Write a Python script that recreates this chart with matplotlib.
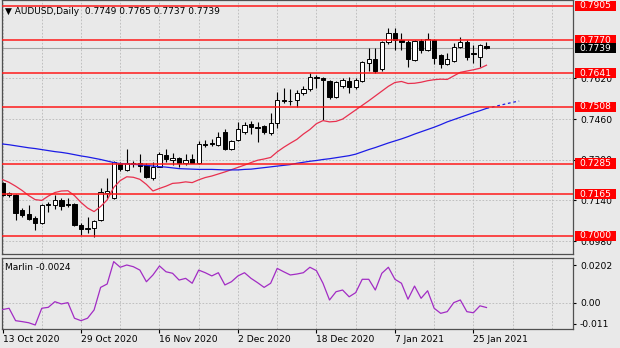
import matplotlib
matplotlib.use("Agg")
import matplotlib.pyplot as plt
from matplotlib.patches import Rectangle

plt.rcParams["font.family"] = ["DejaVu Sans"]

W, H, DPI = 620, 348, 100
BG = "#e9e9e9"
GRID = "#b8b8b8"
LEVEL_RED = "#ff1a1a"
SPINE = "#505050"

# ---- daily AUDUSD bars ----
dates = ["13 Oct 2020", "29 Oct 2020", "16 Nov 2020", "2 Dec 2020",
         "18 Dec 2020", "7 Jan 2021", "25 Jan 2021"]
date_bars = [0, 12, 24, 36, 48, 60, 72]

opens = [0.7208, 0.7161, 0.7161, 0.7102, 0.7085, 0.7070, 0.7050, 0.7120, 0.7122, 0.7142,
         0.7126, 0.7126, 0.7044, 0.7028, 0.7031, 0.7061, 0.7168, 0.7149, 0.7286, 0.7260,
         0.7286, 0.7286, 0.7279, 0.7230, 0.7273, 0.7319, 0.7300, 0.7306, 0.7286, 0.7302,
         0.7289, 0.7362, 0.7365, 0.7358, 0.7410, 0.7341, 0.7378, 0.7410, 0.7439, 0.7428,
         0.7433, 0.7406, 0.7443, 0.7535, 0.7532, 0.7535, 0.7562, 0.7577, 0.7627, 0.7622,
         0.7610, 0.7546, 0.7590, 0.7611, 0.7586, 0.7611, 0.7681, 0.7697, 0.7656, 0.7763,
         0.7798, 0.7770, 0.7765, 0.7693, 0.7769, 0.7732, 0.7771, 0.7712, 0.7677, 0.7690,
         0.7745, 0.7765, 0.7719, 0.7703, 0.7749]
highs = [0.7212, 0.7175, 0.7166, 0.7110, 0.7122, 0.7079, 0.7125, 0.7134, 0.7161, 0.7150,
         0.7149, 0.7128, 0.7050, 0.7076, 0.7063, 0.7189, 0.7228, 0.7295, 0.7292, 0.7343,
         0.7296, 0.7323, 0.7286, 0.7290, 0.7332, 0.7341, 0.7326, 0.7310, 0.7323, 0.7323,
         0.7375, 0.7378, 0.7381, 0.7410, 0.7420, 0.7378, 0.7450, 0.7450, 0.7451, 0.7450,
         0.7437, 0.7485, 0.7568, 0.7581, 0.7577, 0.7575, 0.7590, 0.7640, 0.7633, 0.7625,
         0.7613, 0.7610, 0.7620, 0.7627, 0.7622, 0.7690, 0.7738, 0.7740, 0.7768, 0.7820,
         0.7817, 0.7798, 0.7770, 0.7772, 0.7775, 0.7800, 0.7775, 0.7716, 0.7719, 0.7761,
         0.7782, 0.7770, 0.7752, 0.7756, 0.7765]
lows = [0.7158, 0.7155, 0.7063, 0.7076, 0.7063, 0.7024, 0.7048, 0.7096, 0.7105, 0.7102,
        0.7115, 0.7040, 0.7004, 0.7010, 0.6996, 0.7059, 0.7149, 0.7145, 0.7257, 0.7255,
        0.7272, 0.7253, 0.7227, 0.7222, 0.7270, 0.7292, 0.7279, 0.7273, 0.7279, 0.7286,
        0.7285, 0.7349, 0.7354, 0.7354, 0.7339, 0.7339, 0.7372, 0.7401, 0.7401, 0.7371,
        0.7401, 0.7397, 0.7424, 0.7525, 0.7516, 0.7509, 0.7554, 0.7572, 0.7581, 0.7456,
        0.7540, 0.7543, 0.7583, 0.7562, 0.7580, 0.7605, 0.7650, 0.7641, 0.7650, 0.7755,
        0.7732, 0.7732, 0.7666, 0.7690, 0.7719, 0.7728, 0.7676, 0.7662, 0.7672, 0.7686,
        0.7740, 0.7693, 0.7680, 0.7666, 0.7737]
closes = [0.7161, 0.7168, 0.7092, 0.7083, 0.7066, 0.7050, 0.7122, 0.7124, 0.7142, 0.7118,
          0.7122, 0.7044, 0.7028, 0.7032, 0.7059, 0.7174, 0.7177, 0.7290, 0.7263, 0.7286,
          0.7282, 0.7277, 0.7233, 0.7273, 0.7323, 0.7302, 0.7306, 0.7286, 0.7300, 0.7289,
          0.7362, 0.7359, 0.7362, 0.7388, 0.7341, 0.7374, 0.7420, 0.7437, 0.7428, 0.7424,
          0.7410, 0.7443, 0.7535, 0.7532, 0.7533, 0.7562, 0.7578, 0.7627, 0.7621, 0.7612,
          0.7546, 0.7606, 0.7613, 0.7586, 0.7615, 0.7686, 0.7698, 0.7651, 0.7765, 0.7800,
          0.7772, 0.7765, 0.7695, 0.7769, 0.7732, 0.7774, 0.7700, 0.7677, 0.7695, 0.7745,
          0.7765, 0.7706, 0.7715, 0.7752, 0.7739]

# fast (red) and slow (blue) moving averages
ma_fast = [0.7222, 0.7211, 0.7196, 0.7179, 0.7159, 0.7143, 0.7140, 0.7157, 0.7171, 0.7177,
           0.7178, 0.7159, 0.7132, 0.7110, 0.7096, 0.7116, 0.7142, 0.7191, 0.7218, 0.7233,
           0.7231, 0.7223, 0.7203, 0.7177, 0.7187, 0.7196, 0.7207, 0.7209, 0.7213, 0.7210,
           0.7221, 0.7230, 0.7236, 0.7244, 0.7252, 0.7261, 0.7270, 0.7279, 0.7289, 0.7298,
           0.7303, 0.7309, 0.7331, 0.7349, 0.7365, 0.7380, 0.7401, 0.7419, 0.7442, 0.7454,
           0.7449, 0.7451, 0.7460, 0.7478, 0.7496, 0.7514, 0.7532, 0.7551, 0.7570, 0.7589,
           0.7604, 0.7608, 0.7600, 0.7601, 0.7605, 0.7611, 0.7615, 0.7617, 0.7616, 0.7630,
           0.7644, 0.7649, 0.7654, 0.7660, 0.7672]
ma_slow = [0.7362, 0.7359, 0.7355, 0.7351, 0.7347, 0.7344, 0.7340, 0.7336, 0.7332, 0.7329,
           0.7325, 0.7320, 0.7315, 0.7311, 0.7306, 0.7301, 0.7295, 0.7289, 0.7285, 0.7284,
           0.7282, 0.7280, 0.7278, 0.7275, 0.7273, 0.7271, 0.7268, 0.7265, 0.7264, 0.7263,
           0.7262, 0.7262, 0.7262, 0.7261, 0.7260, 0.7260, 0.7260, 0.7262, 0.7263, 0.7266,
           0.7269, 0.7272, 0.7275, 0.7278, 0.7281, 0.7286, 0.7290, 0.7294, 0.7297, 0.7301,
           0.7304, 0.7308, 0.7312, 0.7316, 0.7322, 0.7331, 0.7340, 0.7348, 0.7357, 0.7366,
           0.7374, 0.7382, 0.7391, 0.7401, 0.7410, 0.7419, 0.7428, 0.7438, 0.7449, 0.7458,
           0.7467, 0.7476, 0.7485, 0.7493, 0.7502]
ma_slow_ahead = [0.7502, 0.7508, 0.7514, 0.7520, 0.7526, 0.7531]

marlin = [-0.0035, -0.0028, -0.0094, -0.0099, -0.0105, -0.0117, -0.0028, -0.0023, 0.0007, -0.0005,
          0.0002, -0.0081, -0.0094, -0.0081, -0.0037, 0.0083, 0.0101, 0.0220, 0.0190, 0.0202,
          0.0193, 0.0175, 0.0113, 0.0149, 0.0197, 0.0166, 0.0158, 0.0122, 0.0131, 0.0105,
          0.0175, 0.0161, 0.0144, 0.0161, 0.0096, 0.0113, 0.0144, 0.0161, 0.0131, 0.0108,
          0.0083, 0.0105, 0.0184, 0.0166, 0.0149, 0.0154, 0.0161, 0.0190, 0.0172, 0.0105,
          0.0016, 0.0060, 0.0069, 0.0033, 0.0055, 0.0126, 0.0126, 0.0069, 0.0158, 0.0190,
          0.0126, 0.0105, 0.0020, 0.0090, 0.0025, 0.0065, -0.0028, -0.0055, -0.0046, 0.0002,
          0.0016, -0.0046, -0.0052, -0.0015, -0.0024]

levels = [0.7905, 0.7770, 0.7641, 0.7508, 0.7285, 0.7165, 0.7000]
price_ticks = [0.6980, 0.7140, 0.7300, 0.7460, 0.7620]
marlin_ticks = [0.0202, 0.0, -0.011]
marlin_tick_labels = ["0.0202", "0.00", "-0.011"]


def px_rect(left, top, right, bottom):
    return [left / W, 1 - bottom / H, (right - left) / W, (bottom - top) / H]


fig = plt.figure(figsize=(W / DPI, H / DPI), dpi=DPI, facecolor=BG)
ax = fig.add_axes(px_rect(2, 0, 573, 254), facecolor=BG)
axm = fig.add_axes(px_rect(2, 257.5, 573, 328.5), facecolor=BG, sharex=ax)

n = len(closes)
xs = list(range(n))

for a in (ax, axm):
    for s in a.spines.values():
        s.set_color(SPINE)
        s.set_linewidth(0.9)
    a.vlines(range(0, 88, 6), 0, 1, transform=a.get_xaxis_transform(),
             colors=GRID, linewidth=0.6, linestyles=(0, (2, 2)), zorder=0)

ax.set_xlim(-0.08, 87.23)
ax.set_ylim(0.69291, 0.79286)

# price grid and right-hand scale
ax.set_yticks(price_ticks)
ax.set_yticklabels([f"{t:.4f}" for t in price_ticks])
ax.yaxis.tick_right()
ax.tick_params(axis="y", labelsize=6.6, length=2.5, pad=2.5, colors="black")
ax.tick_params(axis="x", bottom=False, labelbottom=False)
ax.hlines(price_ticks, 0, 1, transform=ax.get_yaxis_transform(),
          colors=GRID, linewidth=0.6, linestyles=(0, (2, 2)), zorder=0)

# candles
bw = 0.66
ax.vlines(xs, lows, highs, colors="black", linewidth=0.8, zorder=2)
for i, (o, c) in enumerate(zip(opens, closes)):
    lo, hi = min(o, c), max(o, c)
    face = "white" if c >= o else "black"
    ax.add_patch(Rectangle((i - bw / 2, lo), bw, max(hi - lo, 0.00002),
                           facecolor=face, edgecolor="black", linewidth=0.7, zorder=3))

# moving averages
ax.plot(xs, ma_fast, color="#e8304e", linewidth=0.9, zorder=4)
ax.plot(xs, ma_slow, color="#1c1ce6", linewidth=0.9, zorder=4)
ax.plot(range(n - 1, n - 1 + len(ma_slow_ahead)), ma_slow_ahead, color="#1c1ce6",
        linewidth=0.9, linestyle=(0, (2.2, 2.2)), zorder=4)

# horizontal levels and last price
for lv in levels:
    ax.axhline(lv, color=LEVEL_RED, linewidth=1.1, zorder=5)
ax.axhline(closes[-1], color="#a4a4a4", linewidth=0.8, zorder=1)

# Marlin oscillator
axm.set_ylim(-0.01356, 0.02419)
axm.plot(xs, marlin, color="#a22cc4", linewidth=0.9, zorder=3)
axm.axhline(0.0, color=GRID, linewidth=0.6, linestyle=(0, (2, 2)), zorder=0)
axm.set_yticks(marlin_ticks)
axm.set_yticklabels(marlin_tick_labels)
axm.yaxis.tick_right()
axm.tick_params(axis="y", labelsize=6.6, length=2.5, pad=2.5, colors="black")
axm.set_xticks(date_bars)
axm.set_xticklabels(dates, ha="left")
axm.tick_params(axis="x", labelsize=6.6, length=3, pad=1.5, colors="black")

# overlay in pixel coordinates for captions and price tags
ov = fig.add_axes([0, 0, 1, 1], zorder=10)
ov.set_xlim(0, W)
ov.set_ylim(H, 0)
ov.axis("off")
ov.patch.set_visible(False)


def price_to_px(p):
    return H - ax.transData.transform((0, p))[1]


for lv in levels:
    y = price_to_px(lv)
    ov.add_patch(Rectangle((575, y - 5.3), 41, 10.6, facecolor="#ff0000", edgecolor="none"))
    ov.text(595.5, y, f"{lv:.4f}", color="white", fontsize=6.6, ha="center", va="center")

y = price_to_px(closes[-1])
ov.add_patch(Rectangle((575, y - 5.3), 41, 10.6, facecolor="black", edgecolor="none"))
ov.text(595.5, y, f"{closes[-1]:.4f}", color="white", fontsize=6.6, ha="center", va="center")

ov.text(5, 11, f"\u25bc AUDUSD,Daily  {opens[-1]:.4f} {highs[-1]:.4f} {lows[-1]:.4f} {closes[-1]:.4f}",
        fontsize=6.5, ha="left", va="center", color="black")
ov.text(5, 267, f"Marlin {marlin[-1]:.4f}", fontsize=6.5, ha="left", va="center", color="black")

fig.savefig("out.png", dpi=DPI, facecolor=BG)
